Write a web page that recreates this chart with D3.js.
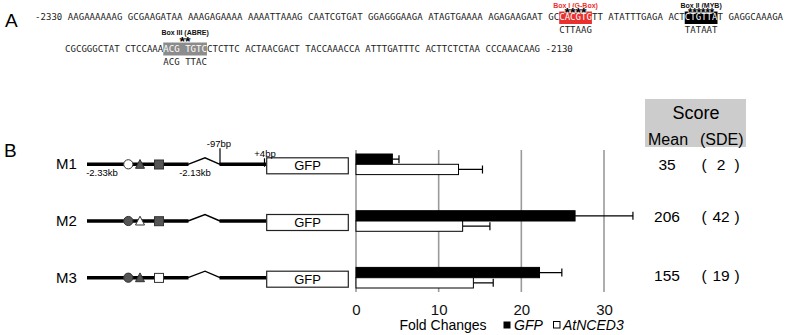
<!DOCTYPE html>
<html>
<head>
<meta charset="utf-8">
<script src="https://cdn.jsdelivr.net/npm/d3@7"></script>
<style>
  body { margin: 0; background: #fff; }
  svg { display: block; font-family: Arial, 'Liberation Sans', sans-serif; }
</style>
</head>
<body>
<div id="chart"></div>
<script>
// panel A: promoter sequence, split the way the figure wraps it
const seqLines = [
  '-2330 AAGAAAAAAG GCGAAGATAA AAAGAGAAAA AAAATTAAAG CAATCGTGAT GGAGGGAAGA ATAGTGAAAA AGAGAAGAAT GCCACGTGTT ATATTTGAGA ACTCTGTTAT GAGGCAAAGA',
  'CGCGGGCTAT CTCCAAAACG TGTCCTCTTC ACTAACGACT TACCAAACCA ATTTGATTTC ACTTCTCTAA CCCAAACAAG -2130'
]
// boxes: line, first char, last char, label, stars, mutated bases
const boxLine = [0, 0, 1]
const boxFrom = [96, 119, 18]
const boxTo = [101, 124, 25]
const boxLabels = ['Box I (G-Box)', 'Box II (MYB)', 'Box III (ABRE)']
const boxStars = ['****', '******', '**']
const boxMutant = ['CTTAAG', 'TATAAT', 'ACG TTAC']

// panel B
const constructs = ['M1', 'M2', 'M3']
// which element is mutated (open symbol): circle, triangle, square
const openElement = ['circle', 'triangle', 'square']
const gfpMean = [4.4, 26.5, 22.2]
const gfpSd = [0.8, 7.0, 2.7]
const ncedMean = [12.4, 12.9, 14.2]
const ncedSd = [2.9, 3.3, 2.4]
const scoreMean = [35, 206, 155]
const scoreSde = [2, 42, 19]
const xTicks = [0, 10, 20, 30]

const width = 785
const height = 335

const svg = d3.select('#chart')
  .append('svg')
  .attr('width', width)
  .attr('height', height)

// ---------- panel A ----------
const cw = 5.46
const lineX = [35, 65]
const lineY = [20, 52]
const charX = i => d3.scaleLinear().domain([0, 1]).range([lineX[i], lineX[i] + cw])
const boxFill = ['#e8312f', '#000000', '#8c8c8c']
const labelFill = ['#e8312f', '#111', '#111']
// vertical layout of the highlight decorations, per sequence line
const boxTop = [11.5, 42.5]
const boxH = [12.5, 13]
const starY = [17, 45.5]
const labelY = [7.5, 34.5]

svg.append('text')
  .attr('x', 5).attr('y', 27)
  .attr('font-size', 19)
  .text('A')

const boxes = svg.selectAll('.seqbox')
  .data(boxLabels)
  .enter()
  .append('g')
  .attr('class', 'seqbox')

boxes.append('rect')
  .attr('x', (d, i) => charX(boxLine[i])(boxFrom[i]))
  .attr('y', (d, i) => boxTop[boxLine[i]])
  .attr('width', (d, i) => (boxTo[i] - boxFrom[i] + 1) * cw)
  .attr('height', (d, i) => boxH[boxLine[i]])
  .attr('fill', (d, i) => boxFill[i])

svg.selectAll('.seq')
  .data(seqLines)
  .enter()
  .append('text')
  .attr('class', 'seq')
  .attr('x', (d, i) => lineX[i])
  .attr('y', (d, i) => lineY[i])
  .attr('font-family', "'DejaVu Sans Mono', monospace")
  .attr('font-size', 9)
  .attr('textLength', d => d.length * cw)
  .attr('lengthAdjust', 'spacing')
  .attr('fill', '#222')
  .selectAll('tspan')
  .data((d, li) => d.split('').map((c, ci) => {
    let inBox = false
    boxLine.forEach((l, b) => {
      if (l === li && ci >= boxFrom[b] && ci <= boxTo[b]) inBox = true
    })
    return { c, inBox }
  }))
  .enter()
  .append('tspan')
  .attr('fill', d => d.inBox ? '#fff' : '#222')
  .text(d => d.c)

// stars, drawn over the boxes
svg.selectAll('.stars')
  .data(boxStars)
  .enter()
  .append('text')
  .attr('class', 'stars')
  .attr('x', (d, i) => charX(boxLine[i])((boxFrom[i] + boxTo[i] + 1) / 2))
  .attr('y', (d, i) => starY[boxLine[i]])
  .attr('text-anchor', 'middle')
  .attr('font-weight', 'bold')
  .attr('font-size', 12)
  .attr('textLength', (d, i) => [22, 26, 11][i])
  .attr('lengthAdjust', 'spacingAndGlyphs')
  .attr('fill', '#000')
  .attr('stroke', '#fff')
  .attr('stroke-width', 0.8)
  .attr('paint-order', 'stroke')
  .text(d => d)

boxes.append('text')
  .attr('x', (d, i) => charX(boxLine[i])((boxFrom[i] + boxTo[i] + 1) / 2))
  .attr('y', (d, i) => labelY[boxLine[i]])
  .attr('text-anchor', 'middle')
  .attr('font-weight', 'bold')
  .attr('font-size', 7)
  .attr('fill', (d, i) => labelFill[i])
  .text(d => d)

boxes.append('text')
  .attr('x', (d, i) => charX(boxLine[i])(boxFrom[i]))
  .attr('y', (d, i) => lineY[boxLine[i]] + 13)
  .attr('font-family', "'DejaVu Sans Mono', monospace")
  .attr('font-size', 9)
  .attr('textLength', (d, i) => boxMutant[i].length * cw)
  .attr('lengthAdjust', 'spacing')
  .attr('fill', '#222')
  .text((d, i) => boxMutant[i])

// ---------- panel B ----------
svg.append('text')
  .attr('x', 4).attr('y', 157)
  .attr('font-size', 19)
  .text('B')

const y = d3.scalePoint().domain(constructs).range([164.3, 277.7])
const x = d3.scaleLinear().domain([0, 30]).range([356, 604])

// constructs
const rows = svg.selectAll('.construct')
  .data(constructs)
  .enter()
  .append('g')
  .attr('class', 'construct')
  .attr('transform', d => `translate(0,${y(d)})`)

rows.append('text')
  .attr('x', 56).attr('y', 5)
  .attr('font-size', 15)
  .text(d => d)

rows.append('path')
  .attr('d', 'M87,0 L188.5,0 M219.5,0 L266,0')
  .attr('stroke', '#000')
  .attr('stroke-width', 3.5)
  .attr('fill', 'none')

rows.append('path')
  .attr('d', 'M188,0 L205,-6.5 L220,0')
  .attr('stroke', '#000')
  .attr('stroke-width', 1.4)
  .attr('fill', 'none')

const symFill = (i, el) => openElement[i] === el ? '#fff' : '#555'

rows.append('circle')
  .attr('cx', 128.3).attr('cy', 0).attr('r', 4.6)
  .attr('fill', (d, i) => symFill(i, 'circle'))
  .attr('stroke', '#333').attr('stroke-width', 1)

rows.append('path')
  .attr('d', 'M135.5,4 L140,-4.8 L144.5,4 Z')
  .attr('fill', (d, i) => symFill(i, 'triangle'))
  .attr('stroke', '#333').attr('stroke-width', 1)

rows.append('rect')
  .attr('x', 154.5).attr('y', -4.3)
  .attr('width', 9).attr('height', 9)
  .attr('fill', (d, i) => symFill(i, 'square'))
  .attr('stroke', '#333').attr('stroke-width', 1)

rows.append('rect')
  .attr('x', 266.7).attr('y', -6.5)
  .attr('width', 81.6).attr('height', 16)
  .attr('fill', '#fff')
  .attr('stroke', '#222').attr('stroke-width', 1.2)

rows.append('text')
  .attr('x', 307.5).attr('y', 6)
  .attr('text-anchor', 'middle')
  .attr('font-size', 13)
  .text('GFP')

// M1 annotations
const m1 = svg.append('g')
  .attr('transform', `translate(0,${y('M1')})`)
  .attr('font-size', 9.5)
m1.append('line')
  .attr('x1', 220).attr('x2', 220).attr('y1', -16).attr('y2', 0)
  .attr('stroke', '#000').attr('stroke-width', 1.2)
m1.append('line')
  .attr('x1', 264.5).attr('x2', 264.5).attr('y1', -6).attr('y2', 2.5)
  .attr('stroke', '#000').attr('stroke-width', 1.2)
m1.append('text').attr('x', 219).attr('y', -17.5).attr('text-anchor', 'middle').text('-97bp')
m1.append('text').attr('x', 265).attr('y', -7).attr('text-anchor', 'middle').text('+4bp')
m1.append('text').attr('x', 102).attr('y', 12).attr('text-anchor', 'middle').text('-2.33kb')
m1.append('text').attr('x', 195).attr('y', 12).attr('text-anchor', 'middle').text('-2.13kb')

// bar chart grid
svg.selectAll('.grid')
  .data(xTicks)
  .enter()
  .append('line')
  .attr('class', 'grid')
  .attr('x1', d => x(d)).attr('x2', d => x(d))
  .attr('y1', 150).attr('y2', 292)
  .attr('stroke', '#9a9a9a')
  .attr('stroke-width', 1.6)

const xAxis = svg.append('g')
  .attr('transform', 'translate(0,300)')
  .call(d3.axisBottom(x).tickValues(xTicks).tickSize(0).tickPadding(0))
xAxis.select('.domain').remove()
xAxis.selectAll('text')
  .attr('font-family', 'Arial, sans-serif')
  .attr('font-size', 15)
  .attr('fill', '#111')
  .attr('dy', '1em')

const barH = 10.3
const series = [
  { mean: gfpMean, sd: gfpSd, fill: '#000', off: -barH },
  { mean: ncedMean, sd: ncedSd, fill: '#fff', off: 0 }
]

series.forEach(s => {
  const g = svg.append('g')
  g.selectAll('.err')
    .data(constructs)
    .enter()
    .append('path')
    .attr('d', (d, i) => {
      const cy = y(d) + s.off + barH / 2
      const x1 = x(s.mean[i])
      const x2 = x(s.mean[i] + s.sd[i])
      return `M${x1},${cy} L${x2},${cy} M${x2},${cy - 4} L${x2},${cy + 4}`
    })
    .attr('stroke', '#000')
    .attr('stroke-width', 1.2)
    .attr('fill', 'none')
  g.selectAll('.bar')
    .data(constructs)
    .enter()
    .append('rect')
    .attr('x', x(0))
    .attr('y', d => y(d) + s.off)
    .attr('width', (d, i) => x(s.mean[i]) - x(0))
    .attr('height', barH)
    .attr('fill', s.fill)
    .attr('stroke', '#000')
    .attr('stroke-width', 1)
})

// legend
svg.append('text')
  .attr('x', 443).attr('y', 330)
  .attr('text-anchor', 'middle')
  .attr('font-size', 14)
  .text('Fold Changes')
svg.append('rect').attr('x', 503.5).attr('y', 321.5).attr('width', 7).attr('height', 7).attr('fill', '#000')
svg.append('text').attr('x', 514).attr('y', 330).attr('font-size', 14).attr('font-style', 'italic').text('GFP')
svg.append('rect').attr('x', 553.5).attr('y', 321.5).attr('width', 6.5).attr('height', 6.5)
  .attr('fill', '#fff').attr('stroke', '#000').attr('stroke-width', 1)
svg.append('text').attr('x', 563).attr('y', 330).attr('font-size', 14).attr('font-style', 'italic').text('AtNCED3')

// score table
svg.append('rect')
  .attr('x', 645).attr('y', 99)
  .attr('width', 101).attr('height', 48)
  .attr('fill', '#cccccc')
svg.append('text').attr('x', 696).attr('y', 119).attr('text-anchor', 'middle').attr('font-size', 18).text('Score')
svg.append('text').attr('x', 648).attr('y', 145).attr('font-size', 16).text('Mean')
svg.append('text').attr('x', 700).attr('y', 145).attr('font-size', 16).text('(SDE)')

const scores = svg.selectAll('.score')
  .data(constructs)
  .enter()
  .append('g')
  .attr('class', 'score')
  .attr('font-size', 15.5)
  .attr('transform', d => `translate(0,${y(d)})`)

scores.append('text')
  .attr('x', 667).attr('y', (d, i) => [6, 1, 3][i])
  .attr('text-anchor', 'middle')
  .text((d, i) => scoreMean[i])
scores.append('text')
  .attr('x', 704).attr('y', (d, i) => [6, 1, 3][i])
  .attr('text-anchor', 'middle')
  .text('(')
scores.append('text')
  .attr('x', 721).attr('y', (d, i) => [6, 1, 3][i])
  .attr('text-anchor', 'middle')
  .text((d, i) => scoreSde[i])
scores.append('text')
  .attr('x', 737).attr('y', (d, i) => [6, 1, 3][i])
  .attr('text-anchor', 'middle')
  .text(')')
</script>
</body>
</html>
